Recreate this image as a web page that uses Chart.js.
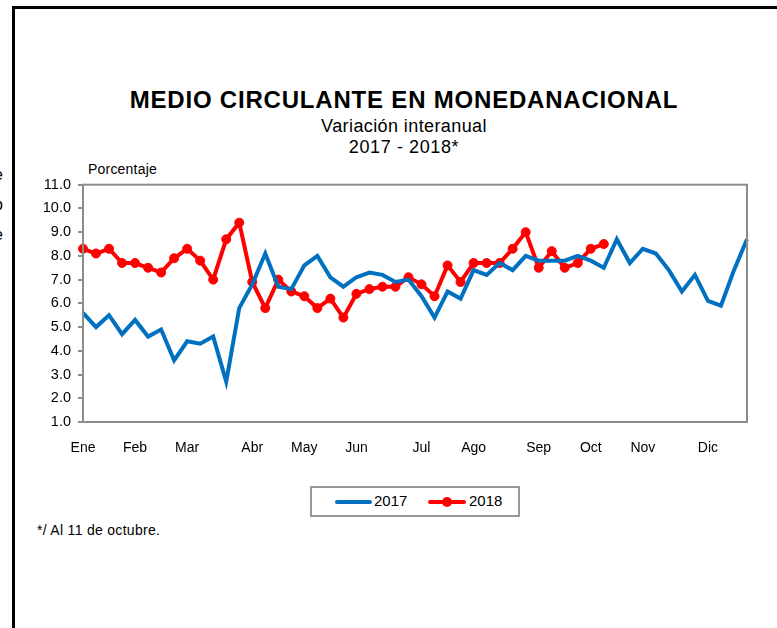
<!DOCTYPE html>
<html>
<head>
<meta charset="utf-8">
<script src="https://cdn.jsdelivr.net/npm/chart.js@4.4.0/dist/chart.umd.min.js"></script>
<style>
  body { margin: 0; background: #fff; font-family: "Liberation Sans", Arial, sans-serif; }
  #page { position: relative; width: 777px; height: 628px; overflow: hidden; }
  #frame { position: absolute; left: 12px; top: 6px; width: 800px; height: 700px;
           border-top: 3px solid #000; border-left: 3px solid #000; }
  .txt { position: absolute; white-space: nowrap; color: #000; }
  #title { left: 0; width: 808px; top: 86px; text-align: center; font-weight: bold; font-size: 24px; letter-spacing: 0.8px; }
  #sub1 { left: 0; width: 808px; top: 116px; text-align: center; font-size: 18px; letter-spacing: 0.4px; }
  #sub2 { left: 0; width: 808px; top: 137px; text-align: center; font-size: 18px; letter-spacing: 0.6px; }
  #unit { left: 88px; top: 161px; font-size: 14px; letter-spacing: 0.2px; }
  #note { left: 37px; top: 522px; font-size: 14px; letter-spacing: 0.3px; }
  .edge { left: -6px; font-size: 16px; }
  #legend { position: absolute; left: 310px; top: 486px; width: 206px; height: 27px;
            border: 2px solid #999; }
  .sw { position: absolute; top: 12px; height: 4px; border-radius: 2px; }
  .lab { position: absolute; top: 4px; font-size: 15px; }
  #dot { position: absolute; left: 130px; top: 9px; width: 10px; height: 10px; border-radius: 5px; background: #ff0000; }
  #chartbox { position: absolute; left: 0; top: 169px; width: 777px; height: 286px; }
  #chartbox canvas { display: block; }
</style>
</head>
<body>
<div id="page">
  <div id="frame"></div>
  <div class="txt edge" style="top:166px">e</div>
  <div class="txt edge" style="top:196px">o</div>
  <div class="txt edge" style="top:226px">e</div>
  <div class="txt" id="title">MEDIO CIRCULANTE EN MONEDANACIONAL</div>
  <div class="txt" id="sub1">Variación interanual</div>
  <div class="txt" id="sub2">2017 - 2018*</div>
  <div class="txt" id="unit">Porcentaje</div>
  <div id="chartbox"><canvas id="graph" width="777" height="286"></canvas></div>
  <div id="legend">
    <div class="sw" style="left:23px;width:37px;background:#0070c0"></div>
    <div class="txt lab" style="left:62px">2017</div>
    <div class="sw" style="left:116px;width:38px;background:#ff0000"></div>
    <div id="dot"></div>
    <div class="txt lab" style="left:157px">2018</div>
  </div>
  <div class="txt" id="note">*/ Al 11 de octubre.</div>
</div>
<script>
// semanas del año, con el nombre del mes solo donde aparece la etiqueta
var monthNames = ["Ene", "Feb", "Mar", "Abr", "May", "Jun", "Jul", "Ago", "Sep", "Oct", "Nov", "Dic"];
var monthWeek = [0, 4, 8, 13, 17, 21, 26, 30, 35, 39, 43, 48];

var serie2017 = [5.6, 5.0, 5.5, 4.7, 5.3, 4.6, 4.9, 3.6, 4.4, 4.3, 4.6, 2.7, 5.8, 6.8, 8.1, 6.7,
                 6.6, 7.6, 8.0, 7.1, 6.7, 7.1, 7.3, 7.2, 6.9, 7.0, 6.3, 5.4, 6.5, 6.2, 7.4, 7.2,
                 7.7, 7.4, 8.0, 7.8, 7.8, 7.8, 8.0, 7.8, 7.5, 8.7, 7.7, 8.3, 8.1, 7.4, 6.5, 7.2,
                 6.1, 5.9, 7.4, 8.7];
var serie2018 = [8.3, 8.1, 8.3, 7.7, 7.7, 7.5, 7.3, 7.9, 8.3, 7.8, 7.0, 8.7, 9.4, 6.9, 5.8, 7.0,
                 6.5, 6.3, 5.8, 6.2, 5.4, 6.4, 6.6, 6.7, 6.7, 7.1, 6.8, 6.3, 7.6, 6.9, 7.7, 7.7,
                 7.7, 8.3, 9.0, 7.5, 8.2, 7.5, 7.7, 8.3, 8.5];
var yTicks = [1, 2, 3, 4, 5, 6, 7, 8, 9, 10, 11];

var labels = [];
for (var i = 0; i < serie2017.length; i++) {
    var k = monthWeek.indexOf(i);
    labels.push(k >= 0 ? monthNames[k] : "");
}

// marco del área de la gráfica (arriba y derecha)
var boxPlugin = {
    id: "box",
    afterDraw: function (chart) {
        var a = chart.chartArea, c = chart.ctx;
        c.save();
        c.strokeStyle = "#8c8c8c";
        c.lineWidth = 2;
        c.strokeRect(a.left, a.top, a.right - a.left, a.bottom - a.top);
        c.restore();
    }
};

var ctx = document.getElementById("graph").getContext("2d");
var lineChart = new Chart(ctx, {
    type: "line",
    data: {
        labels: labels,
        datasets: [
            {
                label: "2017",
                data: serie2017,
                borderColor: "#0070c0",
                backgroundColor: "#0070c0",
                borderWidth: 4,
                pointRadius: 0,
                tension: 0,
                fill: false
            },
            {
                label: "2018",
                data: serie2018,
                borderColor: "#ff0000",
                backgroundColor: "#ff0000",
                pointBackgroundColor: "#ff0000",
                pointBorderColor: "#ff0000",
                borderWidth: 4,
                pointRadius: 4.5,
                pointBorderWidth: 1,
                tension: 0,
                fill: false
            }
        ]
    },
    options: {
        responsive: false,
        animation: false,
        layout: { padding: { top: 0, right: 30, left: 0, bottom: 0 } },
        plugins: { legend: { display: false }, tooltip: { enabled: false } },
        scales: {
            x: {
                offset: false,
                grid: { display: false },
                border: { display: false },
                ticks: {
                    autoSkip: false, maxRotation: 0, minRotation: 0, padding: 10,
                    color: "#000", font: { family: "Liberation Sans", size: 14 }
                },
                afterFit: function (s) { s.height = 33; }
            },
            y: {
                min: 1, max: 11,
                afterBuildTicks: function (s) { s.ticks = yTicks.map(function (v) { return { value: v }; }); },
                grid: { display: true, drawOnChartArea: false, drawTicks: true, tickLength: 5, color: "#8c8c8c", lineWidth: 2 },
                border: { display: false },
                ticks: {
                    padding: 7, color: "#000", font: { family: "Liberation Sans", size: 14.5 },
                    callback: function (v) { return Number(v).toFixed(1); }
                },
                afterFit: function (s) { s.width = 83; }
            }
        }
    },
    plugins: [boxPlugin]
});
</script>
</body>
</html>
